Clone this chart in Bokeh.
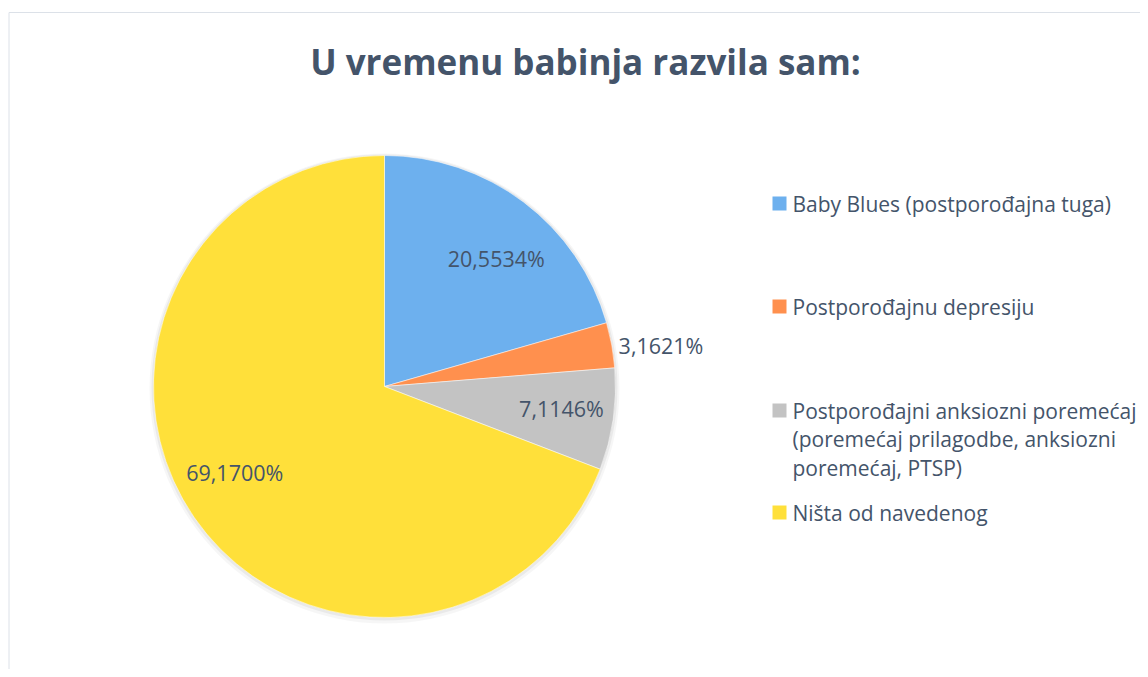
import numpy as np
from bokeh.plotting import figure
from bokeh.models import Range1d, ColumnDataSource
from bokeh.core.properties import value
from bokeh.embed import file_html
from bokeh.resources import INLINE

# ---- data ----
categories = [
    "Baby Blues (postporođajna tuga)",
    "Postporođajnu depresiju",
    "Postporođajni anksiozni poremećaj (poremećaj prilagodbe, anksiozni poremećaj, PTSP)",
    "Ništa od navedenog",
]
legend_labels = [
    "Baby Blues (postporođajna tuga)",
    "Postporođajnu depresiju",
    "Postporođajni anksiozni poremećaj\n(poremećaj prilagodbe, anksiozni\nporemećaj, PTSP)",
    "Ništa od navedenog",
]
percent = [20.5534, 3.1621, 7.1146, 69.1700]
value_labels = ["20,5534%", "3,1621%", "7,1146%", "69,1700%"]
colors = ["#6DB0EE", "#FF904E", "#C3C3C3", "#FFE03A"]
title = "U vremenu babinja razvila sam:"

W, H = 1140, 669
TXT = "#44546A"
FONT = value("Open Sans")


def Y(page_y):
    return H - page_y


p = figure(width=W, height=H, output_backend="svg", toolbar_location=None,
           x_range=Range1d(0, W), y_range=Range1d(0, H), min_border=0)
p.axis.visible = False
p.grid.visible = False
p.outline_line_color = None
p.background_fill_color = "white"
p.border_fill_color = "white"

# chart border (top and left visible)
p.multi_line(xs=[[8.5, 8.5, W]], ys=[[0, Y(12), Y(12)]], line_color="#DCE1E8", line_width=1)

cx, cy, R = 384, Y(386), 231

# soft shadow
p.circle(x=[cx], y=[cy - 2], radius=R + 4, fill_color="#000000", fill_alpha=0.035, line_color=None)
p.circle(x=[cx], y=[cy - 1], radius=R + 2, fill_color="#000000", fill_alpha=0.05, line_color=None)

vals = np.array(percent)
frac = vals / vals.sum()
ang_end_cum = np.cumsum(frac) * 2 * np.pi
start = np.pi / 2 - np.concatenate([[0], ang_end_cum[:-1]])
end = np.pi / 2 - ang_end_cum
mid = (start + end) / 2

src = ColumnDataSource(dict(start=start, end=end, color=colors, cat=categories))
p.wedge(x=cx, y=cy, radius=R, start_angle="start", end_angle="end", direction="clock",
        fill_color="color", line_color="white", line_width=0.5, source=src)

# data labels: inside for large slices, outside for small
lr = np.where(frac > 0.05, 0.75 * R, 1.03 * R)
nudge_x = np.array([7.5, 0.0, 5.5, -7.0])
nudge_y = np.array([-10.5, -2.0, 3.0, 12.0])
lx = cx + lr * np.cos(mid) + nudge_x
ly = cy + lr * np.sin(mid) + nudge_y
align = ["left" if f <= 0.05 else "center" for f in frac]
p.text(x=lx, y=ly, text=value_labels, text_align=align, text_baseline="middle",
       text_font=FONT, text_font_size="21.5px", text_color=TXT)

# title
p.text(x=[585], y=[Y(61)], text=[title], text_align="center", text_baseline="middle",
       text_font=FONT, text_font_style="bold", text_font_size="35px", text_color=TXT)

# legend (manual)
leg_top = [203, 306, 410, 512]
line_gap = 28.5
p.scatter(x=[779] * 4, y=[Y(v) for v in leg_top], marker="square", size=14,
          fill_color=colors, line_color=None)
for lab, y0 in zip(legend_labels, leg_top):
    for k, line in enumerate(lab.split("\n")):
        p.text(x=[792], y=[Y(y0 + k * line_gap)], text=[line], text_align="left",
               text_baseline="middle", text_font=FONT, text_font_size="21px", text_color=TXT)

open("out.html", "w").write(file_html(p, INLINE))
